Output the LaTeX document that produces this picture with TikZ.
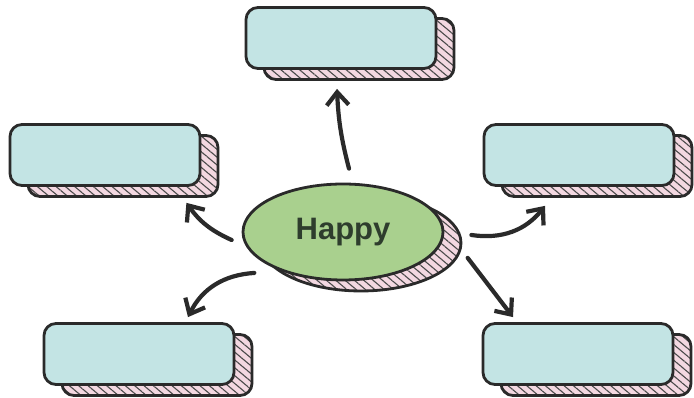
\documentclass[tikz,border=0pt]{standalone}
\usepackage{fontspec}
\setmainfont{Liberation Sans}
\usepackage{xcolor}
\usepackage{tikz}
\usetikzlibrary{arrows.meta,shapes.geometric,patterns.meta}

\definecolor{cardfill}{HTML}{C3E4E4}
\definecolor{happyfill}{HTML}{A9D08E}
\definecolor{sidefill}{HTML}{F3D8E1}
\definecolor{inkline}{HTML}{2A2A2A}
\definecolor{happytext}{HTML}{2E3D2D}

\begin{document}
\begin{tikzpicture}[
  x=1pt, y=1pt,
  card/.style={
    rectangle,
    rounded corners=12pt,
    draw=inkline,
    line width=2.8pt,
    fill=cardfill,
    minimum width=190pt,
    minimum height=61pt,
    inner sep=0pt
  },
  cardside/.style={
    card,
    preaction={fill=sidefill},
    pattern={Lines[angle=-40,distance=6pt,line width=1.1pt]},
    pattern color=inkline!85
  },
  bubble/.style={
    ellipse,
    draw=inkline,
    line width=2.8pt,
    minimum width=200pt,
    minimum height=96pt,
    inner sep=0pt
  },
  link/.style={-{Straight Barb[length=13pt,width=22pt]}, line width=4.2pt, draw=inkline, line cap=round}
]

\useasboundingbox[fill=white] (0,0) rectangle (694,398);

% side bands behind the cards
\node[cardside] (topside) at (359,349) {};
\node[cardside] (leftside) at (123,232) {};
\node[cardside] (rightside) at (597,232) {};
\node[cardside] (blside) at (157,33) {};
\node[cardside] (brside) at (596,33) {};
\node[bubble, preaction={fill=sidefill}, pattern={Lines[angle=-40,distance=6pt,line width=1.1pt]}, pattern color=inkline!85] (happyside) at (361,155) {};

% front faces
\node[card] (top) at (341,360) {};
\node[card] (left) at (105,243) {};
\node[card] (right) at (579,243) {};
\node[card] (bl) at (139,44) {};
\node[card] (br) at (578,44) {};
\node[bubble, fill=happyfill, text=happytext, font=\fontsize{31}{34}\selectfont\bfseries] (happy) at (343,166) {Happy};

\draw[link] ([xshift=6pt,yshift=14pt]happy.north) to[bend left=6] ([xshift=-4pt,yshift=-19pt]top.south);
\draw[link] ([xshift=-10pt,yshift=-8pt]happy.west) to[bend left=15] ([xshift=-15pt,yshift=-16pt]left.south east);
\draw[link] ([xshift=-17pt,yshift=-6pt]happy.south west) to[bend right=30] ([xshift=49pt,yshift=5pt]bl.north);
\draw[link] ([xshift=27pt,yshift=-3pt]happy.east) to[bend right=30] ([xshift=-34pt,yshift=-19pt]right.south);
\draw[link] ([xshift=53pt,yshift=9pt]happy.south east) -- ([xshift=-65pt,yshift=5pt]br.north);

\end{tikzpicture}
\end{document}
